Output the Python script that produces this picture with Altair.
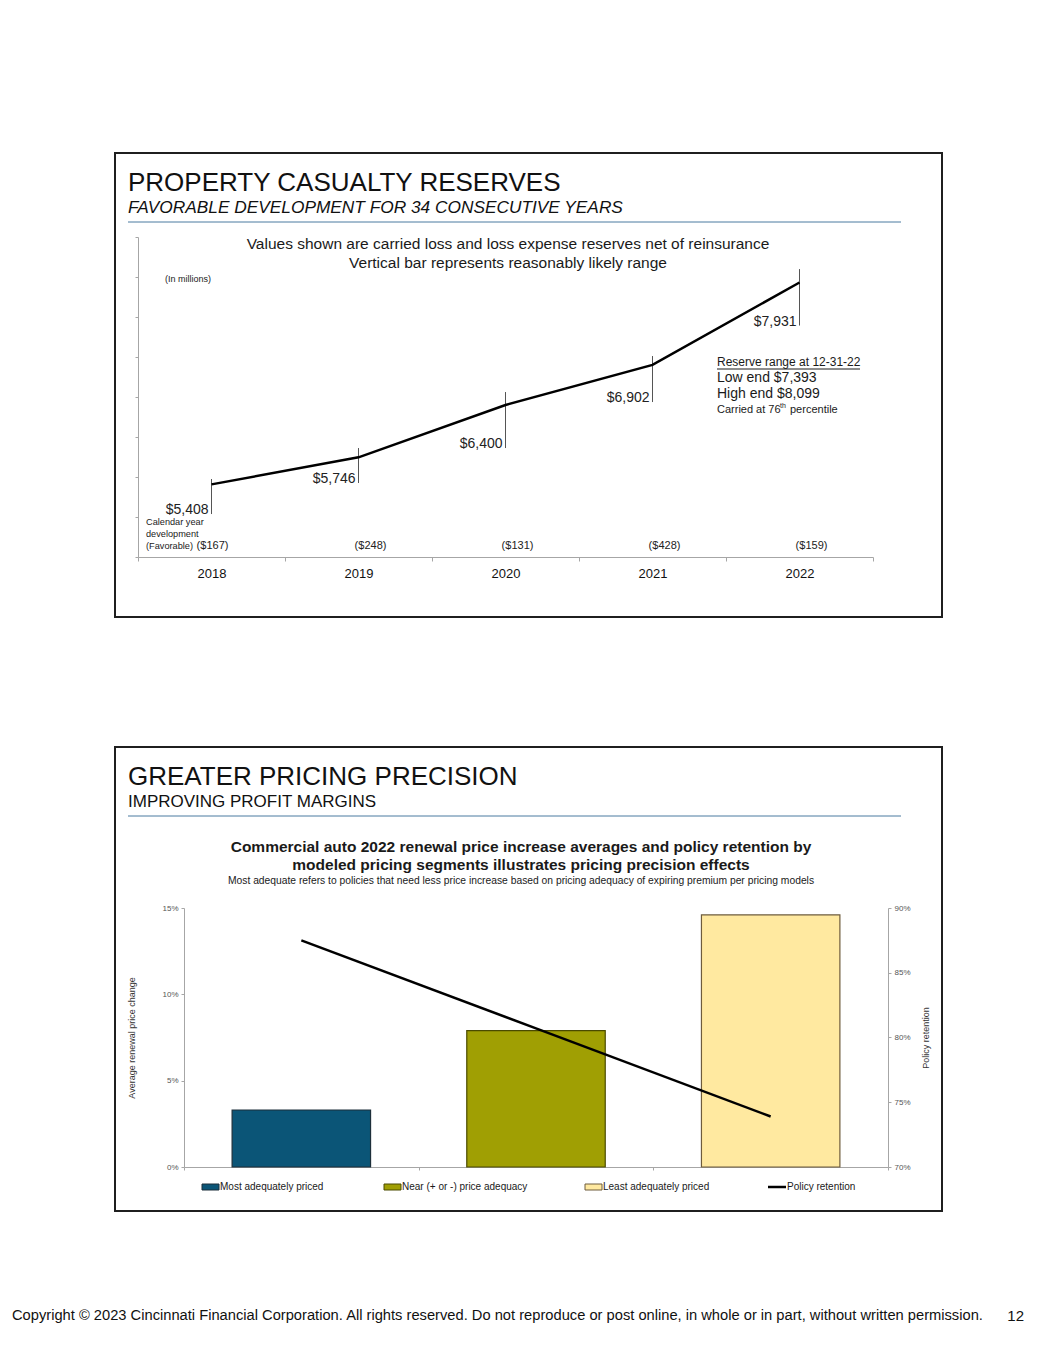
import altair as alt
import pandas as pd

FONT = "Liberation Sans"

# ---------------- Panel 1 data ----------------
years = ["2018", "2019", "2020", "2021", "2022"]
reserves = [5408, 5746, 6400, 6902, 7931]
range_low = [5037, 5425, 5862, 6437, 7393]
range_high = [5475, 5862, 6562, 7012, 8099]
dev_labels = ["($167)", "($248)", "($131)", "($428)", "($159)"]

# ---------------- Panel 2 data ----------------
segments = ["Most adequately priced", "Near (+ or -) price adequacy", "Least adequately priced"]
price_change = [0.033, 0.079, 0.146]
retention = [0.875, 0.807, 0.739]
seg_fill = ["#0B5577", "#A09F03", "#FFE9A0"]
seg_stroke = ["#1d2f3a", "#4a4a00", "#6e5c3c"]

W, H = 827, 464

df1 = pd.DataFrame({
    "year": years, "value": reserves, "low": range_low, "high": range_high,
    "label": ["$" + format(v, ",") for v in reserves], "dev": dev_labels,
})
df2 = pd.DataFrame({"seg": segments, "price": price_change, "ret": retention})


def txt(s, x, y, size, align="left", baseline="middle", color="#1a1a1a", **kw):
    return alt.Chart(pd.DataFrame({"t": [s]})).mark_text(
        align=align, baseline=baseline, fontSize=size, font=FONT, color=color, **kw
    ).encode(x=alt.value(x), y=alt.value(y), text="t:N")


def hrule(x1, x2, y, color, width=1):
    return alt.Chart(pd.DataFrame({"a": [0]})).mark_rule(color=color, strokeWidth=width).encode(
        x=alt.value(x1), x2=alt.value(x2), y=alt.value(y)
    )


AXIS_GRAY = "#a6a6a6"

# ---------------- Panel 1 ----------------
x1 = alt.X(
    "year:N",
    sort=years,
    scale=alt.Scale(domain=years, range=[23, 758], paddingInner=0, paddingOuter=0),
    axis=alt.Axis(
        orient="bottom", offset=-60, tickBand="extent", labelAngle=0, labelFontSize=13,
        labelFont=FONT, labelColor="#111111", domainColor=AXIS_GRAY, tickColor=AXIS_GRAY,
        tickSize=4, labelPadding=6, title=None, grid=False,
    ),
)
yscale1 = alt.Scale(domain=[4500, 8500], range=[404, 84], nice=False, zero=False)
y1axis = alt.Axis(
    orient="left", offset=-23, labels=False, values=list(range(4500, 8501, 500)),
    tickSize=3, domainColor=AXIS_GRAY, tickColor=AXIS_GRAY, title=None, grid=False,
)

base1 = alt.Chart(df1)
line1 = base1.mark_line(color="black", strokeWidth=2.5).encode(
    x=x1, y=alt.Y("value:Q", scale=yscale1, axis=y1axis)
)
rules1 = base1.mark_rule(color="#555555", strokeWidth=1).encode(
    x=x1, y=alt.Y("low:Q", scale=yscale1, axis=y1axis), y2="high:Q"
)
vals1 = base1.mark_text(align="right", baseline="alphabetic", dx=-3, fontSize=14,
                        font=FONT, color="#222222").encode(
    x=x1, y=alt.Y("low:Q", scale=yscale1, axis=y1axis), text="label:N"
)
dev_first = base1.transform_filter(alt.datum.year == "2018").mark_text(
    fontSize=11, font=FONT, color="#222222", baseline="middle", dx=1
).encode(x=x1, y=alt.value(393), text="dev:N")
dev_rest = base1.transform_filter(alt.datum.year != "2018").mark_text(
    fontSize=11, font=FONT, color="#222222", baseline="middle", dx=12
).encode(x=x1, y=alt.value(393), text="dev:N")

panel1 = alt.layer(
    txt("PROPERTY CASUALTY RESERVES", 13, 30, 26, color="#111111"),
    txt("FAVORABLE DEVELOPMENT FOR 34 CONSECUTIVE YEARS", 13, 55, 17.3, fontStyle="italic", color="#111111"),
    hrule(13, 786, 69, "#4a7aa0", 1),
    txt("Values shown are carried loss and loss expense reserves net of reinsurance", 393, 91, 15.5, align="center"),
    txt("Vertical bar represents reasonably likely range", 393, 110, 15.5, align="center"),
    txt("(In millions)", 50, 126, 9),
    txt("Calendar year", 31, 369, 9.2),
    txt("development", 31, 381, 9.2),
    txt("(Favorable)", 31, 393, 9.2),
    txt("Reserve range at 12-31-22", 602, 209, 12),
    hrule(602, 745, 216, "#1a1a1a", 1),
    txt("Low end $7,393", 602, 225, 14),
    txt("High end $8,099", 602, 241, 14),
    txt("Carried at 76", 602, 257, 11),
    txt("th", 665, 253, 7),
    txt("percentile", 675, 257, 11),
    rules1, line1, vals1, dev_first, dev_rest,
).properties(width=W, height=H)

# ---------------- Panel 2 ----------------
x2 = alt.X(
    "seg:N",
    sort=segments,
    scale=alt.Scale(domain=segments, range=[69, 773], paddingInner=0, paddingOuter=0),
    axis=alt.Axis(
        orient="bottom", offset=-44, tickBand="extent", labels=False, domainColor=AXIS_GRAY,
        tickColor=AXIS_GRAY, tickSize=3, title=None, grid=False,
    ),
)
base2 = alt.Chart(df2)
bars2 = base2.mark_bar(width=alt.RelativeBandSize(0.59), strokeWidth=1.2).encode(
    x=x2,
    y=alt.Y(
        "price:Q",
        scale=alt.Scale(domain=[0, 0.15], range=[420, 161], nice=False),
        axis=alt.Axis(
            orient="left", offset=-69, values=[0, 0.05, 0.10, 0.15], format=".0%",
            labelFontSize=8, labelFont=FONT, labelColor="#555555", tickSize=3, labelPadding=3,
            domainColor=AXIS_GRAY, tickColor=AXIS_GRAY, grid=False,
            title="Average renewal price change", titleFontSize=9, titleFont=FONT,
            titleFontWeight="normal", titleColor="#333333", titleBaseline="middle", titlePadding=30,
        ),
    ),
    fill=alt.Fill("seg:N", scale=alt.Scale(domain=segments, range=seg_fill), legend=None),
    stroke=alt.Stroke("seg:N", scale=alt.Scale(domain=segments, range=seg_stroke), legend=None),
)
line2 = base2.mark_line(color="black", strokeWidth=2.5).encode(
    x=x2,
    y=alt.Y(
        "ret:Q",
        scale=alt.Scale(domain=[0.70, 0.90], range=[420, 161], nice=False, zero=False),
        axis=alt.Axis(
            orient="right", offset=-54, values=[0.70, 0.75, 0.80, 0.85, 0.90], format=".0%",
            labelFontSize=8, labelFont=FONT, labelColor="#555555", tickSize=3, labelPadding=3,
            domainColor=AXIS_GRAY, tickColor=AXIS_GRAY, grid=False,
            title="Policy retention", titleFontSize=9, titleFont=FONT, titleFontWeight="normal",
            titleColor="#333333", titleAngle=270, titleBaseline="middle", titlePadding=15,
        ),
    ),
)
plot2 = alt.layer(bars2, line2).resolve_scale(y="independent")


def swatch(xa, xb, fill, stroke):
    return alt.Chart(pd.DataFrame({"a": [0]})).mark_rect(fill=fill, stroke=stroke, strokeWidth=1).encode(
        x=alt.value(xa), x2=alt.value(xb), y=alt.value(437), y2=alt.value(443)
    )


legend_x = [87, 269, 470]
legend_layers = []
for lx, name, f, s in zip(legend_x, segments, seg_fill, seg_stroke):
    legend_layers.append(swatch(lx, lx + 17, f, s))
    legend_layers.append(txt(name, lx + 18, 440, 10))
legend_layers.append(hrule(653, 671, 440, "black", 2.5))
legend_layers.append(txt("Policy retention", 672, 440, 10))

panel2 = alt.layer(
    txt("GREATER PRICING PRECISION", 13, 30, 26, color="#111111"),
    txt("IMPROVING PROFIT MARGINS", 13, 55, 17, color="#111111"),
    hrule(13, 786, 69, "#4a7aa0", 1),
    txt("Commercial auto 2022 renewal price increase averages and policy retention by", 406, 100, 15.5,
        align="center", fontWeight="bold"),
    txt("modeled pricing segments illustrates pricing precision effects", 406, 118, 15.5,
        align="center", fontWeight="bold"),
    txt("Most adequate refers to policies that need less price increase based on pricing adequacy of "
        "expiring premium per pricing models", 406, 134, 10.3, align="center"),
    plot2,
    *legend_layers,
    txt("Copyright \u00a9 2023 Cincinnati Financial Corporation. All rights reserved. Do not reproduce or "
        "post online, in whole or in part, without written permission.", -103, 569, 14.7, color="#111111"),
    txt("12", 909, 569, 15, align="right", color="#111111"),
).resolve_scale(y="independent").properties(width=W, height=H)

chart = alt.vconcat(panel1, panel2, spacing=128).properties(
    padding={"left": 3, "top": 144, "right": 5, "bottom": 5}
).configure_view(stroke="#1f1f1f", strokeWidth=2).configure_axis(grid=False)

chart.save("out.html", embed_options={"renderer": "svg", "actions": False})
